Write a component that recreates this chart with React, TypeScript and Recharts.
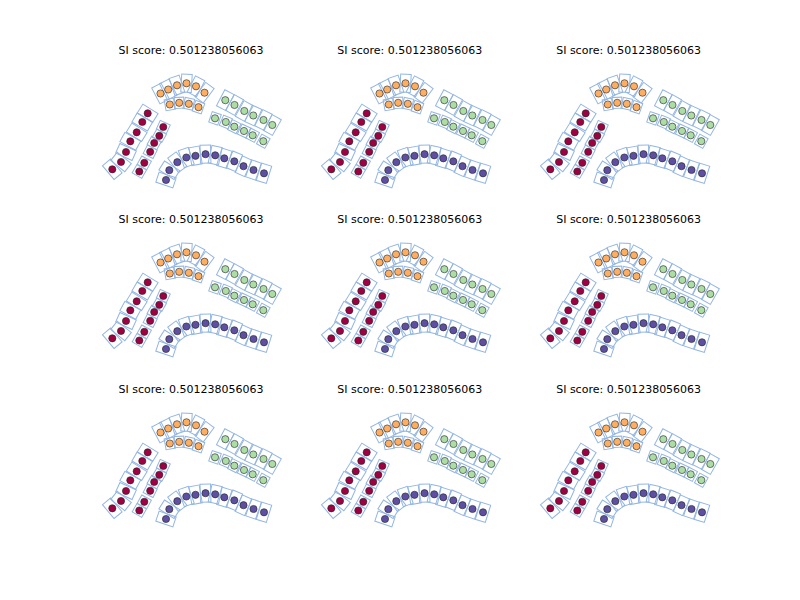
import React from 'react';
import { ScatterChart, Scatter, XAxis, YAxis } from 'recharts';

const TITLE = 'SI score: 0.501238056063';

// panel-relative point positions (x right, y down)
const redOuter: [number, number][] = [
  [12.3, 109.3], [21, 102], [26, 92], [30.3, 81.3], [36.7, 72.3], [42.3, 62], [47.7, 53.3],
];
const redInner: [number, number][] = [
  [39.3, 111.5], [44.3, 102.8], [50.2, 91.8], [54.2, 83], [59.3, 75.8], [63.3, 67],
];
const orangeOuter: [number, number][] = [
  [60.5, 33.5], [68.2, 29.5], [77, 25.3], [86.5, 23.3], [96, 26.3], [104.5, 32.7],
];
const orangeInner: [number, number][] = [
  [69.8, 44.5], [79.2, 42.8], [88.8, 43.8], [98.5, 47.2],
];
const greenOuter: [number, number][] = [
  [125.3, 40.2], [134.5, 45], [144.3, 51], [153.3, 55.5], [163.5, 60], [172.3, 65],
];
const greenInner: [number, number][] = [
  [115, 58.3], [125.8, 62], [134.3, 66.7], [144, 71], [152.7, 75.3], [163.3, 81.2],
];
const purpleArc: [number, number][] = [
  [66, 120], [69.3, 110.2], [77.3, 102.2], [86.3, 97.5], [95.5, 95.8], [105.5, 94.2],
  [115.2, 95.3], [124.3, 98.3], [134.3, 101.3], [143.5, 106.2], [153.5, 110], [164, 113.3],
];

const RED = '#9e0142';
const ORANGE = '#fdae61';
const GREEN = '#abdda4';
const PURPLE = '#5e4fa2';

const ROWS = [
  { pts: redOuter, color: RED, big: true },
  { pts: redInner, color: RED, big: false },
  { pts: orangeOuter, color: ORANGE, big: true },
  { pts: orangeInner, color: ORANGE, big: false },
  { pts: greenOuter, color: GREEN, big: true },
  { pts: greenInner, color: GREEN, big: false },
  { pts: purpleArc, color: PURPLE, big: true },
];

const COL_LEFT = [100, 318.82, 537.65];
const ROW_TOP = [60, 229.41, 398.82];
const PW = 182;
const PH = 141;

function withAngles(pts: [number, number][], big: boolean) {
  return pts.map((p, i) => {
    const a = pts[Math.max(0, i - 1)];
    const b = pts[Math.min(pts.length - 1, i + 1)];
    const angle = (Math.atan2(b[1] - a[1], b[0] - a[0]) * 180) / Math.PI;
    return { x: p[0], y: p[1], angle, big };
  });
}

const BOXES = ROWS.flatMap((r) => withAngles(r.pts, r.big));

const BoxShape = (props: any) => {
  const { cx, cy, payload } = props;
  if (cx == null || cy == null) return null;
  const w = payload.big ? 10.5 : 9.5;
  const h = payload.big ? 18 : 11;
  return (
    <rect
      x={cx - w / 2}
      y={cy - h / 2}
      width={w}
      height={h}
      fill="none"
      stroke="#93b6e3"
      strokeWidth={1}
      transform={`rotate(${payload.angle} ${cx} ${cy})`}
    />
  );
};

const DotShape = (props: any) => {
  const { cx, cy, fill } = props;
  if (cx == null || cy == null) return null;
  return <circle cx={cx} cy={cy} r={3.6} fill={fill} stroke="#222" strokeWidth={0.6} />;
};

function Panel({ left, top }: { left: number; top: number }) {
  return (
    <>
      <div
        style={{
          position: 'absolute',
          left: left,
          top: top - 16,
          width: PW,
          height: 14,
          lineHeight: '14px',
          textAlign: 'center',
          fontFamily: '"DejaVu Sans", sans-serif',
          fontSize: 11,
          color: '#000',
          whiteSpace: 'nowrap',
        }}
      >
        {TITLE}
      </div>
      <div style={{ position: 'absolute', left, top, width: PW, height: PH }}>
        <ScatterChart width={PW} height={PH} margin={{ top: 0, right: 0, bottom: 0, left: 0 }}>
          <XAxis type="number" dataKey="x" domain={[0, PW]} allowDataOverflow hide />
          <YAxis type="number" dataKey="y" domain={[0, PH]} allowDataOverflow reversed hide width={0} />
          <Scatter data={BOXES} shape={BoxShape} isAnimationActive={false} />
          {ROWS.map((r, i) => (
            <Scatter
              key={i}
              data={r.pts.map((p) => ({ x: p[0], y: p[1] }))}
              fill={r.color}
              shape={DotShape}
              isAnimationActive={false}
            />
          ))}
        </ScatterChart>
      </div>
    </>
  );
}

export default function App() {
  return (
    <div style={{ position: 'absolute', left: 0, top: 0, width: 800, height: 600, background: '#fff' }}>
      {ROW_TOP.map((t, ri) =>
        COL_LEFT.map((l, ci) => <Panel key={`${ri}-${ci}`} left={l} top={t} />)
      )}
    </div>
  );
}
